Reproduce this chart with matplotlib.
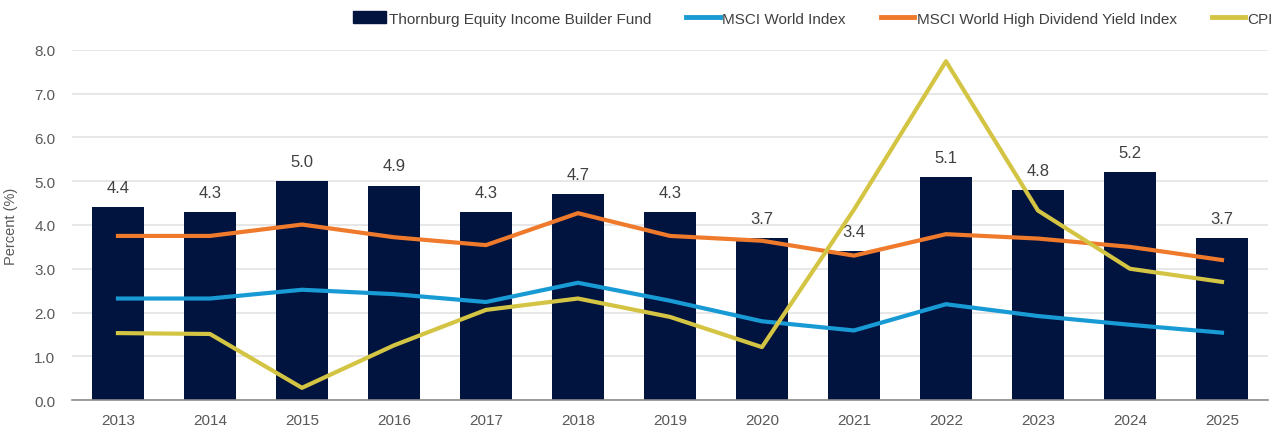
import numpy as np
from matplotlib import pyplot as plt
from matplotlib.lines import Line2D
from matplotlib.patches import Patch

plt.rcParams['font.family'] = ['Liberation Sans', 'DejaVu Sans']

years = ['2013', '2014', '2015', '2016', '2017', '2018', '2019',
         '2020', '2021', '2022', '2023', '2024', '2025']
fund = [4.4, 4.3, 5.0, 4.9, 4.3, 4.7, 4.3, 3.7, 3.4, 5.1, 4.8, 5.2, 3.7]
msci_world = [2.32, 2.32, 2.52, 2.42, 2.24, 2.68, 2.27, 1.80, 1.59, 2.19, 1.92, 1.72, 1.54]
msci_hdy = [3.75, 3.75, 4.01, 3.72, 3.54, 4.27, 3.75, 3.64, 3.30, 3.79, 3.69, 3.50, 3.20]
cpi = [1.53, 1.51, 0.28, 1.25, 2.06, 2.32, 1.90, 1.21, 4.35, 7.74, 4.33, 3.00, 2.70]

navy = '#01133f'
blue = '#189ad5'
orange = '#ef7a2b'
yellow = '#d4c443'
grey = '#595959'

fig = plt.figure(figsize=(12.76, 4.35), dpi=100)
ax = fig.add_axes([0.0564, 0.078, 0.9373, 0.805])

x = np.arange(len(years))
ax.bar(x, fund, width=0.57, color=navy, zorder=2)
for xi, v in zip(x, fund):
    ax.text(xi, v + 0.28, f'{v:.1f}', ha='center', va='bottom',
            fontsize=12, color='#404040')

ax.plot(x, msci_world, color=blue, lw=3, zorder=3)
ax.plot(x, msci_hdy, color=orange, lw=3, zorder=3)
ax.plot(x, cpi, color=yellow, lw=3, zorder=4)

ax.set_xlim(-0.5, len(years) - 0.5)
ax.set_ylim(0, 8)
ax.set_yticks(np.arange(0, 8.1, 1.0))
ax.set_yticklabels([f'{t:.1f}' for t in np.arange(0, 8.1, 1.0)])
ax.set_xticks(x)
ax.set_xticklabels(years)
ax.tick_params(axis='both', colors=grey, labelsize=11, length=0, pad=9)
ax.tick_params(axis='y', pad=12)
ax.grid(axis='y', color='#e3e3e3', lw=1.2, zorder=0)
ax.set_axisbelow(True)
for s in ['top', 'right', 'left']:
    ax.spines[s].set_visible(False)
ax.spines['bottom'].set_color('#8c8c8c')
ax.spines['bottom'].set_linewidth(1.2)
ax.set_ylabel('Percent (%)', color=grey, fontsize=10.5, labelpad=12)

handles = [Patch(color=navy),
           Line2D([], [], color=blue, lw=3.5),
           Line2D([], [], color=orange, lw=3.5),
           Line2D([], [], color=yellow, lw=3.5)]
labels = ['Thornburg Equity Income Builder Fund', 'MSCI World Index',
          'MSCI World High Dividend Yield Index', 'CPI']
leg = fig.legend(handles, labels, loc='center', bbox_to_anchor=(0.637, 0.955),
                 ncol=4, frameon=False, fontsize=11, handlelength=2.2,
                 handleheight=0.8, handletextpad=0.15, columnspacing=2.3)
for t in leg.get_texts():
    t.set_color('#404040')

plt.savefig('out.png', dpi=100)
